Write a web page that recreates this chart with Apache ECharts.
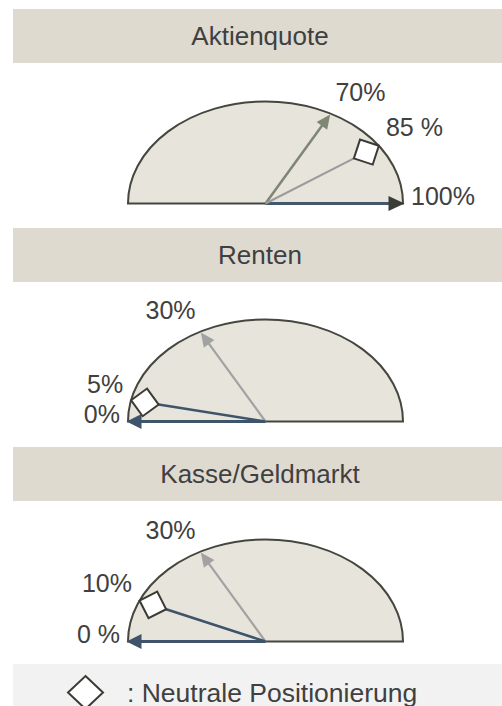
<!DOCTYPE html>
<html>
<head>
<meta charset="utf-8">
<script src="https://cdn.jsdelivr.net/npm/echarts@6/dist/echarts.min.js"></script>
<style>
  html, body { margin: 0; padding: 0; background: #fff; }
  #chart { width: 502px; height: 706px; }
</style>
</head>
<body>
<div id="chart"></div>
<script>
// Quoten-Spannen je Anlageklasse (in %)
const PANEL_TITLES = ["Aktienquote", "Renten", "Kasse/Geldmarkt"];
const RANGE_LOW = [70, 0, 0];
const RANGE_HIGH = [100, 30, 30];
const NEUTRAL = [85, 5, 10];
const LOW_LABELS = ["70%", "0%", "0 %"];
const HIGH_LABELS = ["100%", "30%", "30%"];
const NEUTRAL_LABELS = ["85 %", "5%", "10%"];
const LEGEND_NAME = "Neutrale Positionierung";

const FONT = "'Liberation Sans', Arial, sans-serif";
const TEXT_COLOR = "#404040";
const GRID_TOPS = [101.5, 319.5, 539.5];
const BAND_TOPS = [9, 228, 447];

const BLUE = "#3f546a";
const PANEL_STYLES = [
  {
    low: { color: "#7f8674", head: "#7f8674", width: 2.5, len: 14, half: 6.5 },
    high: { color: "#43586d", head: "#3a3d36", width: 3, len: 16, half: 7.5 },
    neutral: "#9b9b9b",
    neutralWidth: 2,
  },
  {
    low: { color: BLUE, head: BLUE, width: 3, len: 15, half: 7.5 },
    high: { color: "#a2a2a2", head: "#a2a2a2", width: 2.2, len: 14, half: 6.5 },
    neutral: BLUE,
    neutralWidth: 2.5,
  },
  {
    low: { color: BLUE, head: BLUE, width: 3, len: 15, half: 7.5 },
    high: { color: "#a2a2a2", head: "#a2a2a2", width: 2.2, len: 14, half: 6.5 },
    neutral: BLUE,
    neutralWidth: 2.5,
  },
];

// point on the half ellipse for a percentage (0% = left, 100% = right)
function edge(api, pct, extra) {
  const c = api.coord([0, 0]);
  const size = api.size([1, 1]);
  const rx = size[0], ry = size[1];
  const th = Math.PI * (1 - pct / 100);
  const cs = Math.cos(th), sn = Math.sin(th);
  const r = 1 / Math.sqrt((cs / rx) ** 2 + (sn / ry) ** 2) + (extra || 0);
  const p = api.coord([(r * cs) / rx, (r * sn) / ry]);
  return { c, p, dx: cs, dy: -sn };
}

function labelEl(api, pct, text) {
  const e = edge(api, pct, 8);
  const flat = Math.abs(e.dy) < 0.05;
  const align = e.dx > 0.1 ? "left" : e.dx < -0.1 ? "right" : "center";
  return {
    type: "text",
    style: {
      text,
      x: e.p[0],
      y: flat ? e.p[1] - 8 : e.p[1] - 15,
      align,
      verticalAlign: "middle",
      textAlign: align,
      textVerticalAlign: "middle",
      fontSize: 25,
      fontFamily: FONT,
      fill: TEXT_COLOR,
    },
  };
}

function renderShape(params, api) {
  const c = api.coord([0, 0]);
  const l = api.coord([-1, 0]);
  const r = api.coord([1, 0]);
  const t = api.coord([0, 1]);
  const rx = (r[0] - l[0]) / 2;
  const ry = c[1] - t[1];
  return {
    type: "path",
    shape: {
      pathData: `M${l[0]} ${c[1]} A${rx} ${ry} 0 0 1 ${r[0]} ${c[1]} Z`,
      x: l[0],
      y: t[1],
      width: 2 * rx,
      height: ry,
      layout: "cover",
    },
    style: { fill: "#e7e4db", stroke: "#45463e", lineWidth: 2 },
  };
}

function makeArrowRenderer(panel) {
  return (params, api) => {
    const pct = api.value(0);
    const isLow = params.dataIndex === 0;
    const st = isLow ? PANEL_STYLES[panel].low : PANEL_STYLES[panel].high;
    const atEnd = pct === 0 || pct === 100;
    const e = edge(api, pct, atEnd ? 1.5 : -1);
    const bx = e.p[0] - e.dx * st.len;
    const by = e.p[1] - e.dy * st.len;
    const px = -e.dy, py = e.dx;
    const label = isLow ? LOW_LABELS[panel] : HIGH_LABELS[panel];
    return {
      type: "group",
      children: [
        {
          type: "line",
          shape: { x1: e.c[0], y1: e.c[1], x2: bx + e.dx, y2: by + e.dy },
          style: { stroke: st.color, lineWidth: st.width },
        },
        {
          type: "polygon",
          shape: {
            points: [
              [e.p[0], e.p[1]],
              [bx + px * st.half, by + py * st.half],
              [bx - px * st.half, by - py * st.half],
            ],
          },
          style: { fill: st.head },
        },
        labelEl(api, pct, label),
      ],
    };
  };
}

function makeNeutralRenderer(panel) {
  return (params, api) => {
    const pct = api.value(0);
    const e = edge(api, pct, 0);
    const h = 14;
    const mx = e.p[0] - e.dx * h, my = e.p[1] - e.dy * h;
    const ix = e.p[0] - e.dx * 2 * h, iy = e.p[1] - e.dy * 2 * h;
    const px = -e.dy, py = e.dx;
    return {
      type: "group",
      children: [
        {
          type: "line",
          shape: { x1: e.c[0], y1: e.c[1], x2: ix, y2: iy },
          style: { stroke: PANEL_STYLES[panel].neutral, lineWidth: PANEL_STYLES[panel].neutralWidth },
        },
        {
          type: "polygon",
          shape: {
            points: [
              [e.p[0], e.p[1]],
              [mx + px * h, my + py * h],
              [ix, iy],
              [mx - px * h, my - py * h],
            ],
          },
          style: { fill: "#ffffff", stroke: "#3b3b35", lineWidth: 2 },
        },
        labelEl(api, pct, NEUTRAL_LABELS[panel]),
      ],
    };
  };
}

const grids = [], xAxes = [], yAxes = [], series = [], graphics = [];

PANEL_TITLES.forEach((title, i) => {
  grids.push({ left: 128, top: GRID_TOPS[i], width: 275, height: 102 });
  xAxes.push({ gridIndex: i, type: "value", min: -1, max: 1, show: false });
  yAxes.push({ gridIndex: i, type: "value", min: 0, max: 1, show: false });

  graphics.push({
    type: "rect",
    shape: { x: 13, y: BAND_TOPS[i], width: 489, height: 54 },
    style: { fill: "#dedad0" },
    z: 0,
  });
  graphics.push({
    type: "text",
    x: 260,
    y: BAND_TOPS[i] + 27,
    style: {
      text: title,
      align: "center",
      verticalAlign: "middle",
      textAlign: "center",
      textVerticalAlign: "middle",
      fontSize: 26,
      fontFamily: FONT,
      fill: TEXT_COLOR,
    },
    z: 1,
  });

  series.push({
    type: "custom",
    name: title + " Bereich",
    xAxisIndex: i,
    yAxisIndex: i,
    encode: { x: 1, y: 1 },
    data: [[0, 0]],
    renderItem: renderShape,
    silent: true,
    z: 1,
  });
  series.push({
    type: "custom",
    name: title,
    xAxisIndex: i,
    yAxisIndex: i,
    encode: { x: 1, y: 1 },
    data: [
      [RANGE_LOW[i], 0],
      [RANGE_HIGH[i], 0],
    ],
    renderItem: makeArrowRenderer(i),
    silent: true,
    z: 2,
  });
  series.push({
    type: "custom",
    name: LEGEND_NAME,
    xAxisIndex: i,
    yAxisIndex: i,
    encode: { x: 1, y: 1 },
    data: [[NEUTRAL[i], 0]],
    renderItem: makeNeutralRenderer(i),
    itemStyle: { color: "#ffffff", borderColor: "#3b3b35", borderWidth: 2 },
    silent: true,
    z: 3,
  });
});

// legend band
graphics.push({
  type: "rect",
  shape: { x: 13, y: 664, width: 489, height: 42 },
  style: { fill: "#f2f2f2" },
  z: 0,
});

const chart = echarts.init(document.getElementById("chart"), null, { renderer: "svg" });
chart.setOption({
  animation: false,
  backgroundColor: "#ffffff",
  graphic: { elements: graphics },
  legend: {
    left: 67,
    top: 675,
    padding: 0,
    selectedMode: false,
    data: [{ name: LEGEND_NAME, icon: "diamond" }],
    itemWidth: 35,
    itemHeight: 33,
    itemStyle: { color: "#ffffff", borderColor: "#3b3b35", borderWidth: 2 },
    formatter: ": {name}",
    textStyle: { fontSize: 26.5, fontFamily: FONT, color: TEXT_COLOR, padding: [0, 0, 0, 19] },
  },
  grid: grids,
  xAxis: xAxes,
  yAxis: yAxes,
  series,
});
</script>
</body>
</html>
